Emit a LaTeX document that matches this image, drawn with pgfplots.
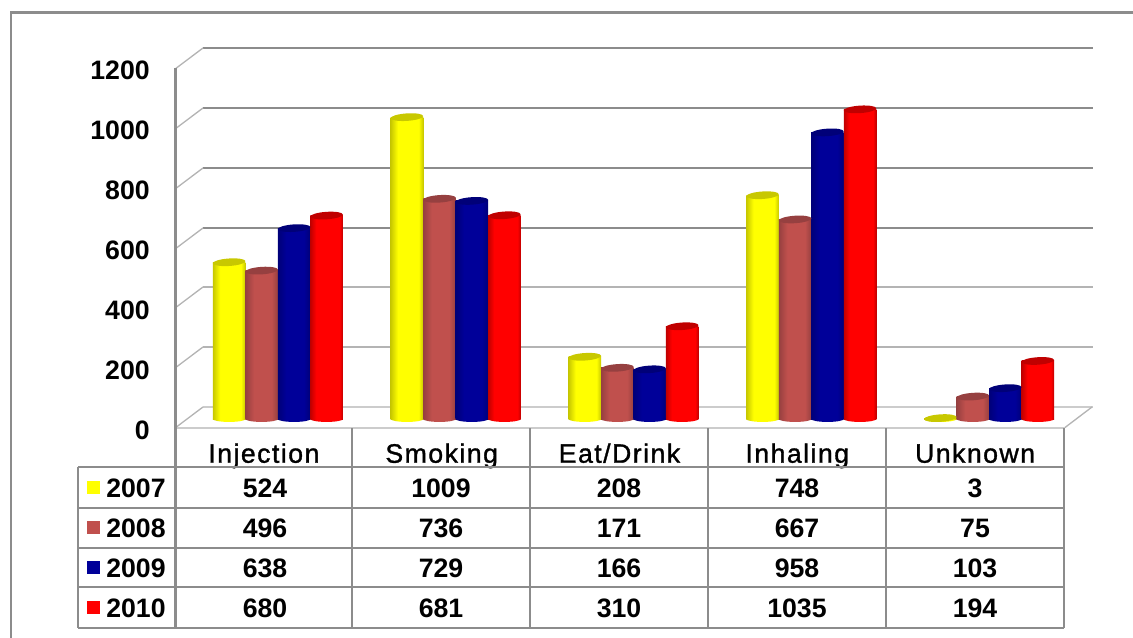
\documentclass[border=0pt]{standalone}
\usepackage{fontspec}
\usepackage{pgfplots}
\usepackage{pgfplotstable}
\pgfplotsset{compat=1.18}
\setmainfont{Liberation Sans}
\newfontfamily\catfont[LetterSpace=5.5,FakeBold=1.2]{Liberation Sans}

\definecolor{gridD}{HTML}{8C8C8C}
\definecolor{gridL}{HTML}{B4B4B4}
\definecolor{floorL}{HTML}{CCCCCC}
\definecolor{yel}{HTML}{FFFF00}
\definecolor{bro}{HTML}{C0504D}
\definecolor{blu}{HTML}{000099}
\definecolor{rd}{HTML}{FF0000}
\definecolor{yelTop}{HTML}{C8C800}
\definecolor{broTop}{HTML}{964040}
\definecolor{bluTop}{HTML}{000078}
\definecolor{rdTop}{HTML}{C00000}

% cylinder shadings, visible range is 25bp..75bp
\pgfdeclarehorizontalshading{cylY}{100bp}{color(0bp)=(yelTop); color(25bp)=(yelTop); color(36bp)=(yel); color(68bp)=(yel); color(75bp)=(yelTop); color(100bp)=(yelTop)}
\pgfdeclarehorizontalshading{cylB}{100bp}{color(0bp)=(broTop); color(25bp)=(broTop); color(38bp)=(bro); color(65bp)=(bro); color(75bp)=(broTop); color(100bp)=(broTop)}
\pgfdeclarehorizontalshading{cylN}{100bp}{color(0bp)=(bluTop); color(25bp)=(bluTop); color(38bp)=(blu); color(65bp)=(blu); color(75bp)=(bluTop); color(100bp)=(bluTop)}
\pgfdeclarehorizontalshading{cylR}{100bp}{color(0bp)=(rdTop); color(25bp)=(rdTop); color(34bp)=(rd); color(70bp)=(rd); color(75bp)=(rdTop); color(100bp)=(rdTop)}

% ellipse ends of the cylinders
\newcommand{\capmark}[2]{\pgfdeclareplotmark{#1}{%
  \pgfsetcolor{#2}\pgfpathellipse{\pgfpointorigin}{\pgfqpoint{12.2pt}{0.8pt}}{\pgfqpoint{-0.15pt}{2.8pt}}\pgfusepathqfill}}
\capmark{topY}{yelTop}\capmark{topB}{broTop}\capmark{topN}{bluTop}\capmark{topR}{rdTop}
\newcommand{\basemark}[2]{\pgfdeclareplotmark{#1}{%
  \pgfpathellipse{\pgfpointorigin}{\pgfqpoint{12.2pt}{0pt}}{\pgfqpoint{0pt}{2.2pt}}\pgfshadepath{#2}{0}\pgfusepath{discard}}}
\basemark{baseY}{cylY}\basemark{baseB}{cylB}\basemark{baseN}{cylN}\basemark{baseR}{cylR}

\pgfplotstableread{
idx zero y2007 y2008 y2009 y2010
0   0    524   496   638   680
1   0    1009  736   729   681
2   0    208   171   166   310
3   0    748   667   958   1035
4   0    3     75    103   194
}\drugdata

% one plot per bar, since a ybar plot shades all its bars as one path
\newcommand{\onebar}[4]{% year, offset, letter, row
  \addplot[ybar,bar width=24.4pt,bar shift=0pt,draw=none,shading=cyl#3,
    skip coords between index={0}{#4},skip coords between index={\numexpr#4+1\relax}{5}]
    table[x expr=\thisrow{idx}+#2,y=y#1]{\drugdata};
}
\newcommand{\cyl}[3]{% year, offset, letter
  \addplot[only marks,mark=base#3] table[x expr=\thisrow{idx}+#2,y=zero]{\drugdata};
  \onebar{#1}{#2}{#3}{0}\onebar{#1}{#2}{#3}{1}\onebar{#1}{#2}{#3}{2}\onebar{#1}{#2}{#3}{3}\onebar{#1}{#2}{#3}{4}
  \addplot[only marks,mark=top#3] table[x expr=\thisrow{idx}+#2,y=y#1]{\drugdata};
}

\begin{document}
\begin{tikzpicture}[x=0.75pt,y=-0.75pt]
\path[use as bounding box] (0,0) rectangle (1133,638);
\coordinate (plotorigin) at (189,419);
% frame
\draw[gridD,line width=2.2pt] (11,638) -- (11,12.5) -- (1133,12.5);
% walls
\foreach \yy/\cc in {48/gridD,108/gridD,168/gridD,228/gridD,287/gridL,347/gridL,407/floorL}{
  \draw[\cc,line width=1.5pt] (203,\yy) -- (1093,\yy);
  \pgfmathsetmacro\yf{\yy+20.3}
  \draw[gridL,line width=1pt] (176,\yf) -- (203,\yy);
}
\draw[gridL,line width=1pt] (1065,427.5) -- (1092,407);
\draw[floorL,line width=2.2pt] (176,428) -- (1065,428);
\draw[gridD,line width=1.8pt] (175.5,68) -- (175.5,628);

\begin{axis}[
  at={(plotorigin)},anchor=south west,
  scale only axis,width=666.75pt,height=269.25pt,
  xmin=-0.5,xmax=4.5,ymin=0,ymax=1200,
  clip=false,
  axis line style={draw=none},
  tick style={draw=none},
  ytick={0,200,400,600,800,1000,1200},
  xtick={0,1,2,3,4},
  xticklabels={Injection,Smoking,Eat/Drink,Inhaling,Unknown},
  scaled y ticks=false,
  /pgf/number format/assume math mode=true,
  /pgf/number format/1000 sep={},
  yticklabel style={font=\fontsize{20}{20}\selectfont\bfseries,inner sep=0pt,anchor=base east,xshift=-29.25pt,yshift=-15pt},
  xticklabel style={font=\fontsize{20}{20}\catfont,inner sep=0pt,anchor=base,xshift=-10.5pt,yshift=-32.8pt},
]
\cyl{2007}{-0.274}{Y}
\cyl{2008}{-0.091}{B}
\cyl{2009}{0.091}{N}
\cyl{2010}{0.274}{R}
\end{axis}

% data table under the plot
\foreach \yy in {467,508,548,587,628}{\draw[gridD,line width=1.2pt] (78,\yy) -- (1064,\yy);}
\draw[gridD,line width=1.2pt] (78,467) -- (78,628);
\foreach \xx in {352,530,708,886,1064}{\draw[gridD,line width=1.6pt] (\xx,428) -- (\xx,628);}
\foreach \yy/\cc in {487/yel,527/bro,567/blu,607/rd}{\fill[\cc] (87,\yy-6.5) rectangle (100,\yy+6.5);}
\tikzset{cell/.style={font=\fontsize{20}{20}\selectfont\bfseries,inner sep=0pt,anchor=base}}
\foreach \yy/\yr in {497/2007,537/2008,577/2009,617/2010}{\node[cell] at (136,\yy) {\yr};}
\foreach \xx/\a/\b/\c/\d in {265/524/496/638/680,441/1009/736/729/681,619/208/171/166/310,797/748/667/958/1035,975/3/75/103/194}{
  \node[cell] at (\xx,497) {\a};
  \node[cell] at (\xx,537) {\b};
  \node[cell] at (\xx,577) {\c};
  \node[cell] at (\xx,617) {\d};
}
\end{tikzpicture}
\end{document}
